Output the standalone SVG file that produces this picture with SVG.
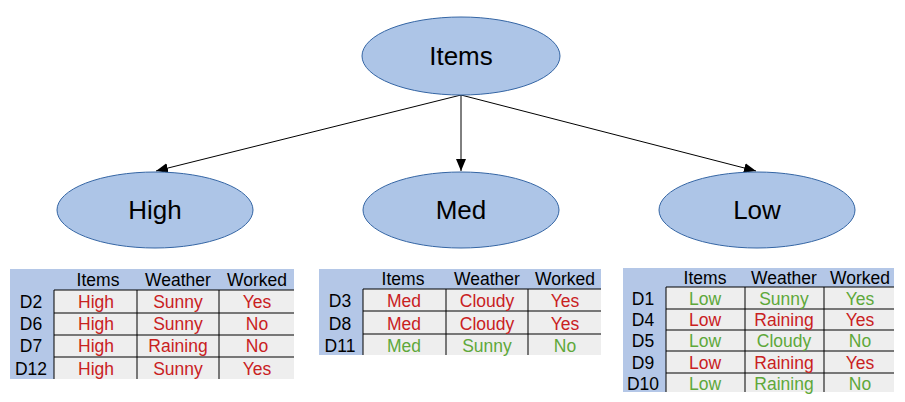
<svg xmlns="http://www.w3.org/2000/svg" width="905" height="402" viewBox="0 0 905 402">
<style>
.node{fill:#adc5e7;stroke:#3465a4;stroke-width:1}
.nl{font-family:"Liberation Sans",Arial,sans-serif;font-size:26px;fill:#000;text-anchor:middle}
.edge{stroke:#000;stroke-width:1;fill:none}
.hb{fill:#b4c7e7}
.cell{fill:#eeeeee}
.grid{stroke:#000;stroke-width:1;fill:none}
.t{font-family:"Liberation Sans",Arial,sans-serif;font-size:17.5px;text-anchor:middle}
.h{fill:#000}
.r{fill:#c9211e}
.g{fill:#5ea83a}
</style>
<defs>
<marker id="ah" markerWidth="12" markerHeight="10" refX="12" refY="5" orient="auto" markerUnits="userSpaceOnUse">
<path d="M0,0 L12,5 L0,10 Z" fill="#000"/>
</marker>
</defs>
<g id="connectors">
<line class="edge" x1="461" y1="95" x2="156" y2="171" marker-end="url(#ah)"/>
<line class="edge" x1="461" y1="95" x2="461" y2="171" marker-end="url(#ah)"/>
<line class="edge" x1="461" y1="95" x2="756" y2="171" marker-end="url(#ah)"/>
</g>
<g id="node-items"><ellipse class="node" cx="461" cy="56" rx="99" ry="39"/><text class="nl" x="461" y="65">Items</text></g>
<g id="node-high"><ellipse class="node" cx="155" cy="210" rx="98" ry="38"/><text class="nl" x="155" y="219">High</text></g>
<g id="node-med"><ellipse class="node" cx="461" cy="210" rx="98" ry="38"/><text class="nl" x="461" y="219">Med</text></g>
<g id="node-low"><ellipse class="node" cx="757" cy="210" rx="98" ry="38"/><text class="nl" x="757" y="219">Low</text></g>

<g id="table-high">
<rect class="hb" x="10" y="269" width="284" height="110"/>
<rect class="cell" x="54" y="290" width="240" height="89"/>
<path class="grid" d="M54,379 V290 H294 M54,313 H294 M54,335 H294 M54,357 H294 M137,290 V379 M219,290 V379"/>
<g class="t">
<text class="h" x="98" y="286">Items</text><text class="h" x="178" y="286">Weather</text><text class="h" x="257" y="286">Worked</text>
<text class="h" x="31" y="308">D2</text><text class="r" x="96" y="308">High</text><text class="r" x="178" y="308">Sunny</text><text class="r" x="257" y="308">Yes</text>
<text class="h" x="31" y="330">D6</text><text class="r" x="96" y="330">High</text><text class="r" x="178" y="330">Sunny</text><text class="r" x="257" y="330">No</text>
<text class="h" x="31" y="352">D7</text><text class="r" x="96" y="352">High</text><text class="r" x="178" y="352">Raining</text><text class="r" x="257" y="352">No</text>
<text class="h" x="31" y="375">D12</text><text class="r" x="96" y="375">High</text><text class="r" x="178" y="375">Sunny</text><text class="r" x="257" y="375">Yes</text>
</g>
</g>

<g id="table-med">
<rect class="hb" x="319" y="269" width="282" height="86"/>
<rect class="cell" x="363" y="289" width="238" height="66"/>
<path class="grid" d="M363,355 V289 H601 M363,311 H601 M363,334 H601 M446,289 V355 M528,289 V355"/>
<g class="t">
<text class="h" x="403" y="285">Items</text><text class="h" x="487" y="285">Weather</text><text class="h" x="565" y="285">Worked</text>
<text class="h" x="340" y="307">D3</text><text class="r" x="404" y="307">Med</text><text class="r" x="487" y="307">Cloudy</text><text class="r" x="565" y="307">Yes</text>
<text class="h" x="340" y="330">D8</text><text class="r" x="404" y="330">Med</text><text class="r" x="487" y="330">Cloudy</text><text class="r" x="565" y="330">Yes</text>
<text class="h" x="340" y="352">D11</text><text class="g" x="404" y="352">Med</text><text class="g" x="487" y="352">Sunny</text><text class="g" x="565" y="352">No</text>
</g>
</g>

<g id="table-low">
<rect class="hb" x="623" y="268" width="271" height="124"/>
<rect class="cell" x="666" y="287" width="228" height="105"/>
<path class="grid" d="M666,392 V287 H894 M666,309 H894 M666,330 H894 M666,351 H894 M666,373 H894 M745,287 V392 M824,287 V392"/>
<g class="t">
<text class="h" x="705" y="284">Items</text><text class="h" x="784" y="284">Weather</text><text class="h" x="860" y="284">Worked</text>
<text class="h" x="643" y="305">D1</text><text class="g" x="705" y="305">Low</text><text class="g" x="784" y="305">Sunny</text><text class="g" x="860" y="305">Yes</text>
<text class="h" x="643" y="326">D4</text><text class="r" x="705" y="326">Low</text><text class="r" x="784" y="326">Raining</text><text class="r" x="860" y="326">Yes</text>
<text class="h" x="643" y="347">D5</text><text class="g" x="705" y="347">Low</text><text class="g" x="784" y="347">Cloudy</text><text class="g" x="860" y="347">No</text>
<text class="h" x="643" y="369">D9</text><text class="r" x="705" y="369">Low</text><text class="r" x="784" y="369">Raining</text><text class="r" x="860" y="369">Yes</text>
<text class="h" x="643" y="390">D10</text><text class="g" x="705" y="390">Low</text><text class="g" x="784" y="390">Raining</text><text class="g" x="860" y="390">No</text>
</g>
</g>
</svg>
